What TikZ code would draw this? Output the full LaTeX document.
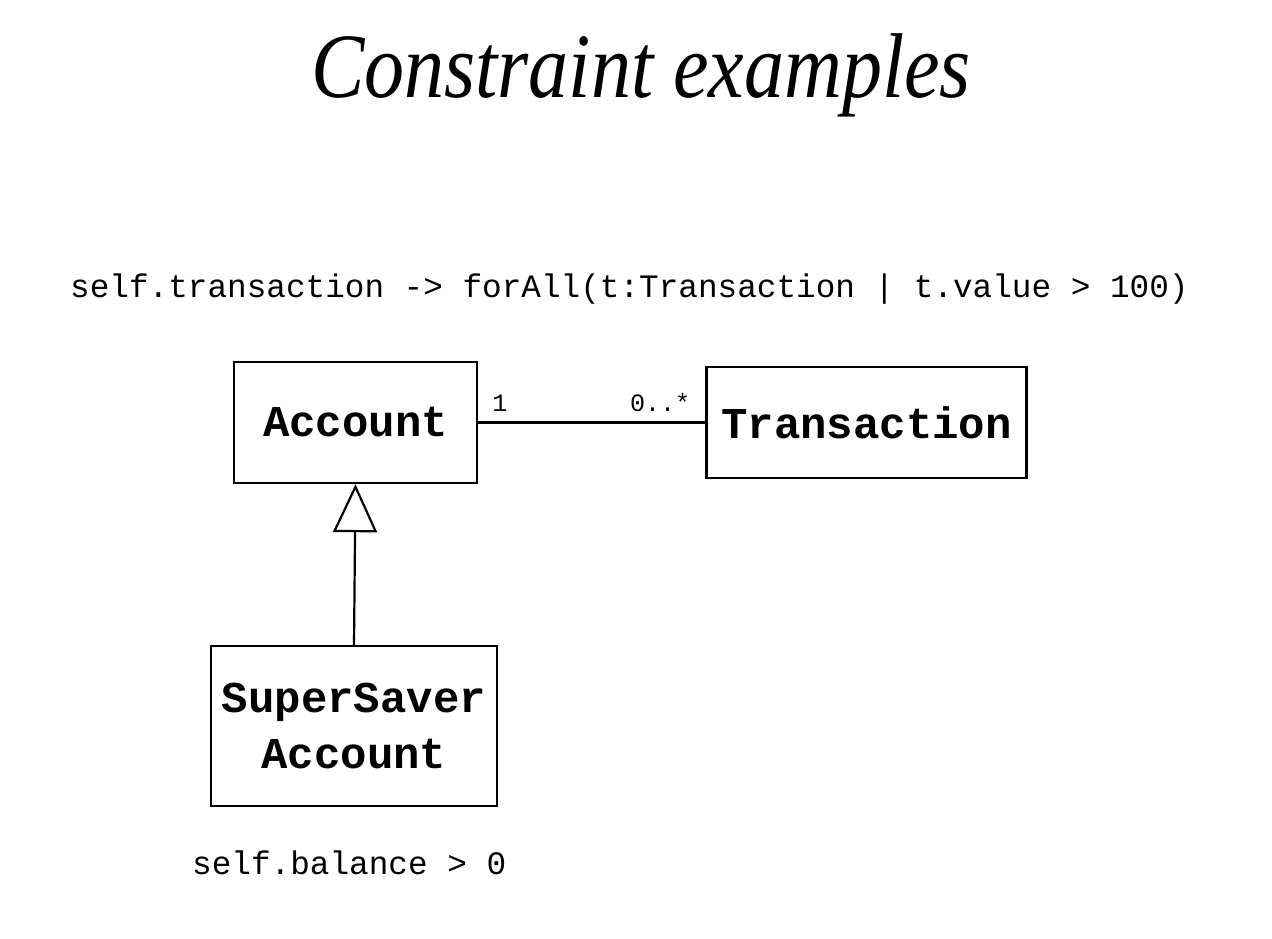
\documentclass[tikz,border=0pt]{standalone}
\usepackage{fontspec}
\setmainfont{Liberation Serif}
\setmonofont{Liberation Mono}
\usetikzlibrary{arrows.meta}
\begin{document}
\begin{tikzpicture}[x=1pt,y=-1pt,
  cls/.style={draw, line width=2.4pt, inner sep=0pt, align=center,
    font=\fontsize{44}{56}\selectfont\ttfamily\bfseries},
  ocl/.style={anchor=base west, inner sep=0pt,
    font=\fontsize{32.7}{38}\selectfont\ttfamily},
  mult/.style={inner sep=0pt, font=\fontsize{25}{30}\selectfont\ttfamily},
  conn/.style={line width=2.2pt}]
\useasboundingbox (0,0) rectangle (1272,938);
\node[anchor=base, inner sep=0pt, font=\fontsize{80}{90}\selectfont\itshape] (title) at (641,97) {\scalebox{1}[1.15]{Constraint examples}};
\node[ocl] (c1) at (70,297) {self.transaction -> forAll(t:Transaction | t.value > 100)};
\node[cls, minimum width=243pt, minimum height=121pt] (acc) at (355.5,422.5) {Account};
\node[cls, minimum width=320pt, minimum height=111pt] (trans) at (866.5,422.5) {Transaction};
\node[cls, minimum width=286pt, minimum height=160pt] (ssa) at (354,726) {SuperSaver\\Account};
\node[ocl] (c2) at (192,874) {self.balance > 0};
\draw[conn] (acc.east) -- (trans.west)
  node[mult, pos=0, anchor=base west, xshift=13pt, yshift=11pt] (m1) {1}
  node[mult, pos=1, anchor=base east, xshift=-14pt, yshift=11pt] (m2) {0..*};
\draw[conn, -{Triangle[open, length=48pt, width=44pt, line width=2.2pt]}] (ssa.north) -- (acc.south);
\end{tikzpicture}
\end{document}
